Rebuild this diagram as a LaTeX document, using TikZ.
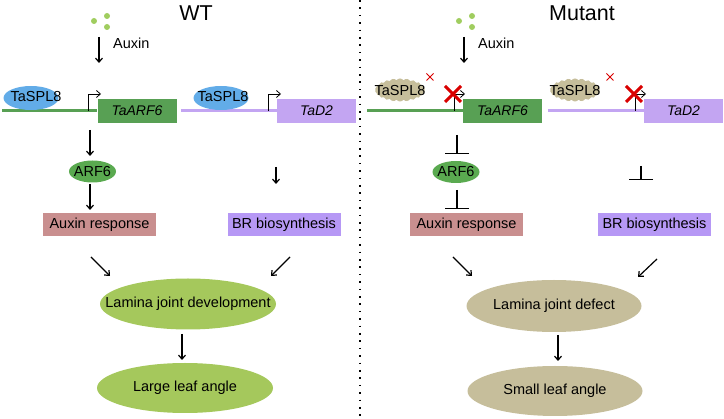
\documentclass[tikz,border=0pt]{standalone}
\usepackage{fontspec}
\setmainfont{Liberation Sans}
\usetikzlibrary{arrows.meta,shapes.geometric,shapes.symbols}
\definecolor{dotgreen}{RGB}{160,205,95}
\definecolor{genegreen}{RGB}{88,160,84}
\definecolor{genepurple}{RGB}{195,165,242}
\definecolor{splblue}{RGB}{98,172,232}
\definecolor{arfgreen}{RGB}{90,170,80}
\definecolor{auxrose}{RGB}{201,143,143}
\definecolor{brlav}{RGB}{182,152,245}
\definecolor{fategreen}{RGB}{165,200,92}
\definecolor{fatetan}{RGB}{198,190,155}
\begin{document}
\begin{tikzpicture}[>={Straight Barb[length=4pt,width=7pt]},x=1pt,y=-1pt,
	every node/.style={font=\fontsize{14.5}{16}\selectfont,inner sep=0pt},
	every label/.style={font=\fontsize{14.5}{16}\selectfont,inner sep=0pt},
	title/.style={font=\fontsize{21.5}{24}\selectfont},
	ar/.style={->,line width=1.2pt},
	inh/.style={-{Bar[width=24pt,line width=1.2pt]},line width=1.2pt},
	tss/.style={->,line width=0.8pt},
	geneline/.style={line width=3pt},
	genebox/.style={rectangle,minimum width=79pt,minimum height=24pt,font=\fontsize{14}{16}\selectfont\itshape},
	spl/.style={ellipse,fill=splblue,minimum width=55pt,minimum height=24pt},
	splmut/.style={cloud,cloud puffs=22,cloud puff arc=110,aspect=2.2,fill=fatetan,minimum width=50pt,minimum height=23pt},
	arf/.style={ellipse,fill=arfgreen,minimum width=47pt,minimum height=22pt},
	respbox/.style={rectangle,minimum width=113pt,minimum height=23pt},
	fate/.style={ellipse,minimum width=176pt,minimum height=51pt},
	redx/.style={red!85!black,line width=#1}]
	\useasboundingbox (0,0) rectangle (724,419);
	\def\ly{111}
	% WT
	\node[title] (wt) at (196,13) {WT};
	\fill[dotgreen] (94,21) circle (3) (107,16) circle (3) (107,27) circle (3);
	\coordinate (auxa) at (99,37);
	\coordinate (auxb) at (99,63);
	\draw[ar] (auxa) -- (auxb);
	\node[anchor=west] (auxw) at (113,43) {Auxin};
	\node[genebox,fill=genegreen] (arfw) at (137,\ly) {TaARF6};
	\node[genebox,fill=genepurple] (d2w) at (316.5,\ly) {TaD2};
	\coordinate (lnA) at (2,\ly);
	\coordinate (lnB) at (181,\ly);
	\draw[geneline,genegreen] (lnA) -- (arfw.west);
	\draw[geneline,genepurple] (lnB) -- (d2w.west);
	\node[spl] (splw) at (31,98) {};
	\node (splwt) at (36,97) {TaSPL8};
	\node[spl] (splwb) at (221,98) {};
	\node (splwbt) at (223,97) {TaSPL8};
	\coordinate (tssA) at (88,\ly);
	\coordinate (tssAe) at (101,94);
	\coordinate (tssB) at (268,\ly);
	\coordinate (tssBe) at (281,94);
	\draw[tss] (tssA) |- (tssAe);
	\draw[tss] (tssB) |- (tssBe);
	\node[arf,label=center:ARF6] (arf6w) at (92.5,171.5) {};
	\coordinate (a1) at (90,130);
	\coordinate (a2) at (90,156);
	\draw[ar] (a1) -- (a2);
	\coordinate (a3) at (90,184);
	\coordinate (a4) at (90,210);
	\draw[ar] (a3) -- (a4);
	\coordinate (b1) at (276,167);
	\coordinate (b2) at (276,184);
	\draw[ar] (b1) -- (b2);
	\node[respbox,fill=auxrose] (respw) at (99.5,224.5) {Auxin response};
	\node[respbox,fill=brlav] (brw) at (284,224.5) {BR biosynthesis};
	\node[fate,fill=fategreen,label=center:Lamina joint development] (lamw) at (188,304) {};
	\node[fate,fill=fategreen,minimum height=50pt,label=center:Large leaf angle] (leafw) at (185,388) {};
	\coordinate (c1) at (91,257);
	\coordinate (c2) at (110,276);
	\coordinate (c3) at (290,257);
	\coordinate (c4) at (271,276);
	\draw[ar] (c1) -- (c2);
	\draw[ar] (c3) -- (c4);
	\coordinate (d1) at (182,334);
	\coordinate (d2) at (182,360);
	\draw[ar] (d1) -- (d2);
	% divider
	\coordinate (divtop) at (360,0);
	\coordinate (divbot) at (360,419);
	\draw[line width=1.3pt,dash pattern=on 1.6pt off 5.8pt] (divtop) -- (divbot);
	% Mutant
	\node[title] (mut) at (582,13) {Mutant};
	\fill[dotgreen] (459,21) circle (3) (472,16) circle (3) (472,27) circle (3);
	\coordinate (mauxa) at (464,37);
	\coordinate (mauxb) at (464,63);
	\draw[ar] (mauxa) -- (mauxb);
	\node[anchor=west] (auxm) at (478,43) {Auxin};
	\node[genebox,fill=genegreen] (arfm) at (502.5,\ly) {TaARF6};
	\node[genebox,fill=genepurple] (d2m) at (683.5,\ly) {TaD2};
	\coordinate (mlnA) at (367,\ly);
	\coordinate (mlnB) at (548,\ly);
	\draw[geneline,genegreen] (mlnA) -- (arfm.west);
	\draw[geneline,genepurple] (mlnB) -- (d2m.west);
	\node[splmut] (splm) at (400,90) {};
	\node (splmt) at (400,91) {TaSPL8};
	\node[splmut] (splmb) at (575,90) {};
	\node (splmbt) at (575,91) {TaSPL8};
	\coordinate (mtssA) at (454,\ly);
	\coordinate (mtssAe) at (465,94);
	\coordinate (mtssB) at (635,\ly);
	\coordinate (mtssBe) at (646,94);
	\draw[tss] (mtssA) |- (mtssAe);
	\draw[tss] (mtssB) |- (mtssBe);
	\foreach \cx/\sx in {453/430,634/610}{
		\draw[redx=3pt] (\cx-8,86) -- (\cx+8,102) (\cx-8,102) -- (\cx+8,86);
		\draw[redx=1pt] (\sx-3.5,73.5) -- (\sx+3.5,80.5) (\sx-3.5,80.5) -- (\sx+3.5,73.5);
	}
	\node[arf,label=center:ARF6] (arf6m) at (456,172) {};
	\coordinate (e1) at (457,135);
	\coordinate (e2) at (457,154);
	\draw[inh] (e1) -- (e2);
	\coordinate (e3) at (457,190);
	\coordinate (e4) at (457,209);
	\draw[inh] (e3) -- (e4);
	\coordinate (f1) at (641,166);
	\coordinate (f2) at (641,180);
	\draw[inh] (f1) -- (f2);
	\node[respbox,fill=auxrose] (respm) at (466.5,224.5) {Auxin response};
	\node[respbox,fill=brlav] (brm) at (654.5,224.5) {BR biosynthesis};
	\node[fate,fill=fatetan,minimum width=175pt,minimum height=52pt,label=center:Lamina joint defect] (lamm) at (554,306) {};
	\node[fate,fill=fatetan,minimum width=175pt,minimum height=50pt,label=center:Small leaf angle] (leafm) at (555,391) {};
	\coordinate (g1) at (453,257);
	\coordinate (g2) at (472,276);
	\coordinate (g3) at (657,259);
	\coordinate (g4) at (638,277);
	\draw[ar] (g1) -- (g2);
	\draw[ar] (g3) -- (g4);
	\coordinate (h1) at (558,335);
	\coordinate (h2) at (558,361);
	\draw[ar] (h1) -- (h2);
\end{tikzpicture}
\end{document}
